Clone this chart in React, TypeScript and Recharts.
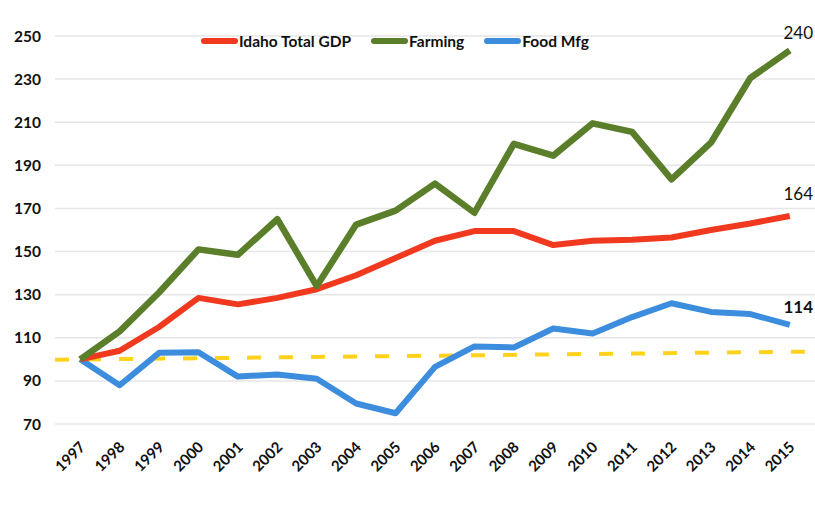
import React from "react";
import { LineChart, Line, XAxis, YAxis, CartesianGrid, Legend, LabelList } from "recharts";

const years = [1997, 1998, 1999, 2000, 2001, 2002, 2003, 2004, 2005, 2006, 2007, 2008, 2009, 2010, 2011, 2012, 2013, 2014, 2015];
const idahoGdp = [100, 104, 115, 128.5, 125.5, 128.5, 132.5, 139, 147, 155, 159.5, 159.5, 153, 155, 155.5, 156.5, 160, 163, 166.5];
const farming = [100, 113, 131, 151, 148.5, 165, 134, 162.5, 169, 181.5, 168, 200, 194.5, 209.5, 205.5, 183.5, 200.5, 230.5, 243.3];
const foodMfg = [100, 88, 103, 103.3, 92, 93, 91, 79.5, 75, 96.5, 106, 105.5, 114.3, 112, 119.6, 126, 122, 121, 116];
const baselineX = [1996.36, 2015.64];
const baselineY = [99.8, 103.6];
const yTicks = [70, 90, 110, 130, 150, 170, 190, 210, 230, 250];
const endLabels = { gdp: "164", farming: "240", food: "114" };

const data = years.map((y, i) => ({ year: y, gdp: idahoGdp[i], farming: farming[i], food: foodMfg[i] }));
const baseline = baselineX.map((x, i) => ({ year: x, base: baselineY[i] }));

const FONT = "Lato, 'Open Sans', sans-serif";
const RED = "#F0391F";
const GREEN = "#5A7E2A";
const BLUE = "#3C8DDE";
const YELLOW = "#FFD21F";

const XTick = (props: any) => {
  const { x, y, payload } = props;
  return (
    <text
      x={x + 6}
      y={y + 16}
      textAnchor="end"
      transform={`rotate(-45 ${x + 6} ${y + 16})`}
      fontFamily={FONT}
      fontWeight={700}
      fontSize={15}
      fill="#111"
    >
      {payload.value}
    </text>
  );
};

const makeEndLabel = (text: string, bold: boolean, dy: number) => (props: any) => {
  const { y, index } = props;
  if (index !== years.length - 1) return null;
  return (
    <text x={813} y={y + dy} textAnchor="end" fontFamily={FONT} fontSize={17} fontWeight={bold ? 700 : 400} fill="#111">
      {text}
    </text>
  );
};

const legendItems = [
  { label: "Idaho Total GDP", color: RED },
  { label: "Farming", color: GREEN },
  { label: "Food Mfg", color: BLUE },
];

const LegendContent = () => (
  <div style={{ display: "flex", alignItems: "center", fontFamily: FONT, fontWeight: 700, fontSize: 15.5, color: "#111" }}>
    {legendItems.map((it) => (
      <div key={it.label} style={{ display: "flex", alignItems: "center", marginRight: 20 }}>
        <span style={{ display: "inline-block", width: 37, height: 6, borderRadius: 3, background: it.color, marginRight: 1 }} />
        <span>{it.label}</span>
      </div>
    ))}
  </div>
);

export default function App() {
  return (
    <div style={{ position: "absolute", left: 0, top: 0, width: 815, height: 520, background: "#fff" }}>
      <LineChart width={815} height={520} data={data} margin={{ top: 18, right: 0, bottom: 0, left: 0 }}>
        <CartesianGrid vertical={false} stroke="#e6e6e6" strokeWidth={1.5} />
        <XAxis
          dataKey="year"
          type="number"
          domain={[baselineX[0], baselineX[1]]}
          ticks={years}
          allowDataOverflow
          axisLine={false}
          tickLine={false}
          height={96}
          tick={<XTick />}
          interval={0}
        />
        <YAxis
          domain={[70, 250]}
          ticks={yTicks}
          width={55}
          axisLine={false}
          tickLine={false}
          tickSize={0}
          tickMargin={14}
          tick={{ fontFamily: FONT, fontWeight: 700, fontSize: 15.5, fill: "#111" }}
        />
        <Legend verticalAlign="top" content={<LegendContent />} wrapperStyle={{ top: 32, left: 201, width: "auto" }} />
        <Line data={baseline} dataKey="base" stroke={YELLOW} strokeWidth={4} strokeDasharray="14 18" dot={false} isAnimationActive={false} />
        <Line dataKey="food" stroke={BLUE} strokeWidth={6} dot={false} strokeLinejoin="round" isAnimationActive={false}>
          <LabelList dataKey="food" content={makeEndLabel(endLabels.food, true, -12)} />
        </Line>
        <Line dataKey="gdp" stroke={RED} strokeWidth={6} dot={false} strokeLinejoin="round" isAnimationActive={false}>
          <LabelList dataKey="gdp" content={makeEndLabel(endLabels.gdp, false, -16)} />
        </Line>
        <Line dataKey="farming" stroke={GREEN} strokeWidth={6.5} dot={false} strokeLinejoin="round" isAnimationActive={false}>
          <LabelList dataKey="farming" content={makeEndLabel(endLabels.farming, false, -11)} />
        </Line>
      </LineChart>
    </div>
  );
}
